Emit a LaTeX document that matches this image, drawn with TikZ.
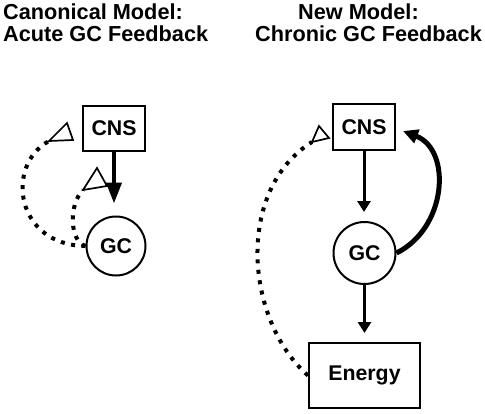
\documentclass[tikz,border=0pt]{standalone}
\usepackage{fontspec}
\setmainfont{Liberation Sans}
\usetikzlibrary{arrows.meta}
\begin{document}
\begin{tikzpicture}[x=1pt,y=-1pt,
  title/.style={font=\bfseries\fontsize{21.7}{23}\selectfont, inner sep=0pt, anchor=base west},
  lbl/.style={font=\bfseries\fontsize{21.3}{23}\selectfont},
  box/.style={lbl, draw, line width=2pt, inner sep=0pt},
  disc/.style={lbl, draw, circle, line width=2pt, inner sep=0pt},
  dotline/.style={line width=4pt, dash pattern=on 4pt off 6.5pt},
  arr/.style={line width=3pt, -{Triangle[length=11pt,width=13pt]}, shorten >=9pt},
  openhead/.style={line width=1.7pt, line join=miter, fill=white}]
\useasboundingbox (0,0) rectangle (485,413);
% titles
\node[title] (t1) at (3,19) {Canonical Model:};
\node[title] (t2) at (3,41.7) {Acute GC Feedback};
\node[title] (t3) at (298,19) {New Model:};
\node[title] (t4) at (255,41.7) {Chronic GC Feedback};
% left model
\node[box, minimum width=62pt, minimum height=45pt] (lcns) at (114,128.5) {CNS};
\node[disc, minimum size=59pt] (lgc) at (116,246) {GC};
\draw[line width=4pt, -{Triangle[length=21pt,width=15pt]}, shorten >=12pt]
  (lcns.south) -- (lcns.south |- lgc.north);
\coordinate (lo) at (49,141);
\coordinate (li) at (83,190);
\draw[dotline] (lgc.west) .. controls (15,245) and (5,165) .. (lo);
\draw[dotline] (lgc.west) .. controls (70,242) and (68,205) .. (li);
\draw[openhead] (lo) -- (67,123) -- (73,140) -- cycle;
\draw[openhead] (li) -- (97,168) -- (107,186) -- cycle;
% right model
\node[box, minimum width=62pt, minimum height=46pt] (rcns) at (364,127) {CNS};
\node[disc, minimum size=62pt] (rgc) at (364.5,253) {GC};
\node[box, minimum width=111pt, minimum height=65pt] (en) at (364.5,375.5) {Energy};
\draw[arr] (rcns.south) -- (rcns.south |- rgc.north);
\draw[arr] (rgc.south) -- (rgc.south |- en.north);
\coordinate (rin) at (403,131);
\draw[line width=5pt, -{Triangle[length=15pt,width=14pt]}]
  (rgc.east) .. controls (447,228) and (452,150) .. (rin);
\coordinate (ro) at (312,142);
\draw[dotline] (en.west) .. controls (245,320) and (235,190) .. (ro);
\draw[openhead] (ro) -- (319,126) -- (329,138) -- cycle;
\end{tikzpicture}
\end{document}
